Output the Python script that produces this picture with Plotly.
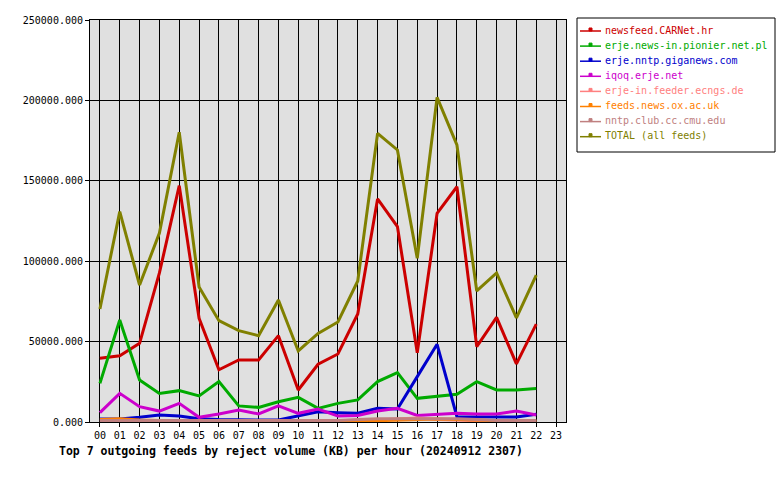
import plotly.graph_objects as go

hours = list(range(23))
hour_labels = ["%02d" % h for h in range(24)]

names = [
    "newsfeed.CARNet.hr",
    "erje.news-in.pionier.net.pl",
    "erje.nntp.giganews.com",
    "iqoq.erje.net",
    "erje-in.feeder.ecngs.de",
    "feeds.news.ox.ac.uk",
    "nntp.club.cc.cmu.edu",
    "TOTAL (all feeds)",
]

carnet = [39600, 41200, 48900, 92700, 147000, 64500, 32500, 38600, 38600, 53700, 19900, 35900,
          42300, 67200, 138700, 121500, 43100, 129800, 146300, 46900, 65100, 36100, 60900]
pionier = [24000, 63400, 26100, 17800, 19500, 16200, 25100, 10000, 9100, 12600, 15300, 8500,
           11600, 13700, 25100, 30700, 14700, 15800, 17200, 25100, 19900, 19900, 20900]
giganews = [1900, 1900, 2900, 4400, 3700, 2000, 1500, 1200, 1200, 1200, 4000, 6400,
            5800, 5400, 8500, 8100, 28200, 48300, 3300, 3300, 3100, 3100, 4800]
iqoq = [5800, 17800, 9500, 6800, 11600, 2900, 5000, 7500, 5000, 10000, 5400, 8100,
        3700, 4000, 6800, 8500, 4100, 4800, 5400, 5000, 5000, 6800, 4400]
ecngs = [500, 500, 500, 500, 500, 300, 300, 300, 300, 300, 500, 500,
         500, 800, 1500, 2000, 2500, 1500, 1000, 800, 500, 500, 500]
oxac = [1500, 2000, 1200, 800, 800, 300, 300, 300, 300, 300, 300, 300,
        500, 500, 800, 1000, 1500, 1800, 1500, 1000, 800, 500, 500]
cmu = [1000, 1000, 1000, 1000, 1000, 1000, 1000, 1000, 1000, 1000, 1000, 1000,
       1000, 1500, 2000, 2000, 2000, 2000, 2000, 1500, 1000, 1000, 1000]
total = [70300, 130800, 85200, 117500, 180200, 84000, 63000, 56800, 53700, 75900, 44200, 55100,
         62200, 87700, 179500, 169200, 101800, 201900, 172300, 81500, 92700, 64700, 91400]

series = [carnet, pionier, giganews, iqoq, ecngs, oxac, cmu, total]
colors = ["#cc0000", "#00aa00", "#0000cc", "#cc00cc", "#ff8080", "#ff8000", "#c08080", "#808000"]

yticks = [0, 50000, 100000, 150000, 200000, 250000]

title = "Top 7 outgoing feeds by reject volume (KB) per hour (20240912 2307)"

# plot area in pixels
L, R, T, B = 90, 566, 20, 422
W, H = R - L, B - T


def px(x):
    return (x - L) / W


def py(y):
    return (B - y) / H


fig = go.Figure()
for name, vals, col in zip(names, series, colors):
    fig.add_trace(go.Scatter(x=hours, y=vals, mode="lines", name=name,
                             line=dict(color=col, width=3), showlegend=False))

mono = "DejaVu Sans Mono"
shapes = []
annotations = []
# legend box
shapes.append(dict(type="rect", xref="paper", yref="paper",
                   x0=px(577), x1=px(775), y0=py(18), y1=py(152),
                   line=dict(color="black", width=1), fillcolor="white", layer="above"))
for i, (name, col) in enumerate(zip(names, colors)):
    yy = 31 + 15.1 * i
    shapes.append(dict(type="line", xref="paper", yref="paper",
                       x0=px(580), x1=px(601), y0=py(yy), y1=py(yy),
                       line=dict(color=col, width=1.5), layer="above"))
    shapes.append(dict(type="rect", xref="paper", yref="paper",
                       x0=px(589), x1=px(592), y0=py(yy), y1=py(yy - 3),
                       line=dict(color=col, width=1), fillcolor=col, layer="above"))
    annotations.append(dict(xref="paper", yref="paper", x=px(603), y=py(yy - 1),
                            xanchor="left", yanchor="middle", text=name, showarrow=False,
                            font=dict(family=mono, size=10, color=col)))

annotations.append(dict(xref="paper", yref="paper", x=px(57), y=py(451),
                        xanchor="left", yanchor="middle", text="<b>" + title + "</b>",
                        showarrow=False, font=dict(family=mono, size=11.5, color="black")))

fig.update_layout(
    width=780, height=480,
    margin=dict(l=L, r=780 - R, t=T, b=480 - B),
    paper_bgcolor="white", plot_bgcolor="#e0e0e0",
    shapes=shapes, annotations=annotations,
    showlegend=False,
    font=dict(family=mono, size=10, color="black"),
    xaxis=dict(range=[-0.5, 23.5], tickvals=list(range(24)), ticktext=hour_labels,
               showgrid=True, gridcolor="black", gridwidth=1, zeroline=False,
               showline=True, linecolor="black", linewidth=1, mirror=True,
               ticks="outside", ticklen=4, tickcolor="black",
               tickfont=dict(family=mono, size=10)),
    yaxis=dict(range=[0, 250000], tickvals=yticks, tickformat=".3f",
               showgrid=True, gridcolor="black", gridwidth=1, zeroline=False,
               showline=True, linecolor="black", linewidth=1, mirror=True,
               ticks="outside", ticklen=4, tickcolor="black",
               tickfont=dict(family=mono, size=10)),
)

fig.write_html("out.html")
